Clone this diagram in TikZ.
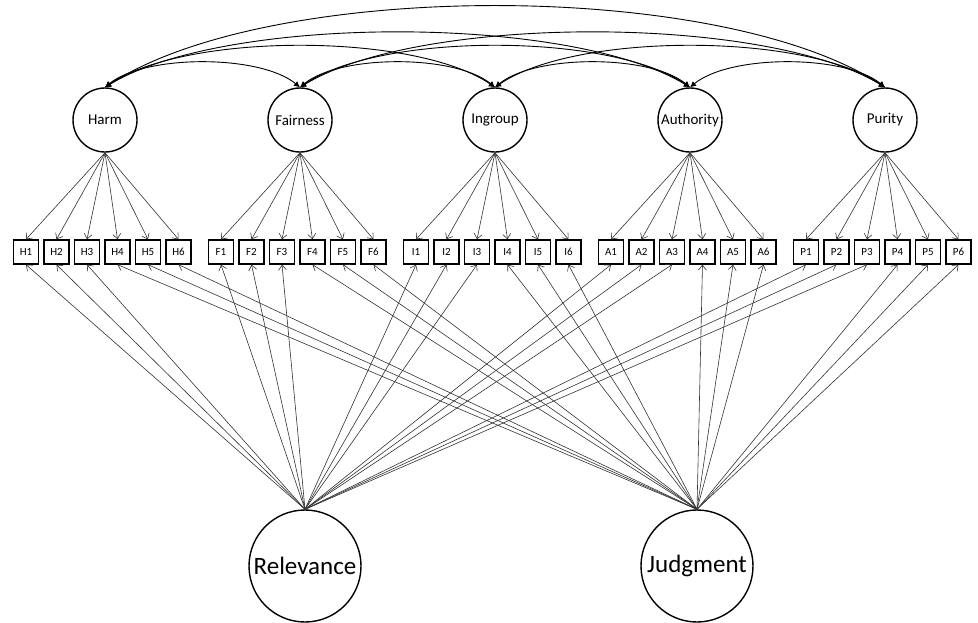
\documentclass[tikz,border=0pt]{standalone}
\usepackage{fontspec}
\setmainfont{Carlito}
\usetikzlibrary{positioning, arrows.meta, calc}
\definecolor{mLine}{HTML}{333333}

\begin{document}
\begin{tikzpicture}[x=1pt, y=-1pt,
  factor/.style={draw, circle, line width=1.4pt, minimum size=64pt,
                 inner sep=0pt, font=\fontsize{15}{18}\selectfont},
  bigfactor/.style={draw, circle, line width=1.4pt, minimum size=112pt,
                    inner sep=0pt, font=\fontsize{25}{30}\selectfont},
  item/.style={draw, line width=1.3pt, minimum width=25pt, minimum height=24pt,
               inner sep=0pt, font=\fontsize{11}{13}\selectfont},
  load/.style={-{Straight Barb[length=5pt, width=8pt]}, line width=0.6pt, draw=mLine},
  cov/.style={{Latex[length=6pt, width=6pt]}-{Latex[length=6pt, width=6pt]}, line width=0.9pt},
]
  \useasboundingbox (0,0) rectangle (978,622);

  % Top row: the five foundations
  \foreach \n/\lab/\x in {H/Harm/105, F/Fairness/300, I/Ingroup/495, A/Authority/690, P/Purity/885} {
    \node[factor] (\n) at (\x, 120) {\lab};
  }

  % Bottom row: the two method factors
  \node[bigfactor] (rel) at (305, 566) {Relevance};
  \node[bigfactor] (jud) at (697, 566) {Judgment};

  % Items with their loadings
  \foreach \n [count=\g from 0] in {H, F, I, A, P} {
    \foreach \k in {1,...,6} {
      \node[item] (\n\k) at ({26+195*\g+30.5*(\k-1)}, 252) {\n\k};
      \draw[load] (\n.south) -- (\n\k.north);
    }
    \foreach \k in {1,2,3} \draw[load] (rel.north) -- (\n\k.south);
    \foreach \k in {4,5,6} \draw[load] (jud.north) -- (\n\k.south);
  }

  % Covariances between the foundations
  \foreach \a/\b/\dx/\h in {H/F/40/33, F/I/40/33, I/A/40/33, A/P/40/33,
                            H/I/80/55, F/A/80/55, I/P/80/55,
                            H/A/120/73, F/P/120/73, H/P/165/108} {
    \draw[cov] (\a.north) .. controls +(\dx,-\h) and +(-\dx,-\h) .. (\b.north);
  }
\end{tikzpicture}
\end{document}
